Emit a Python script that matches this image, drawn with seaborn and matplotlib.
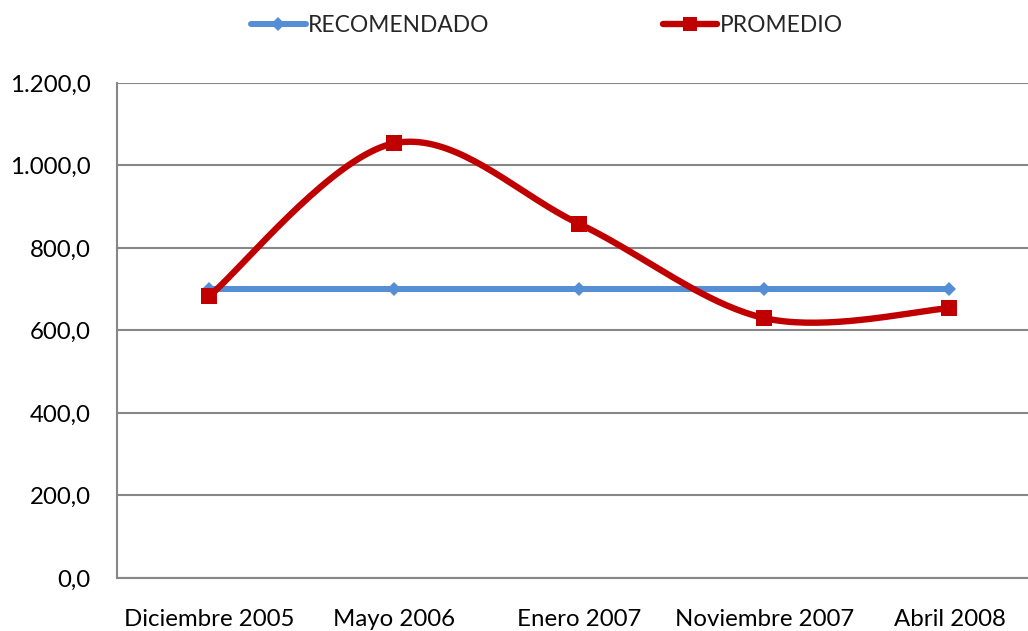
import numpy as np
import pandas as pd
import seaborn as sns
import matplotlib.pyplot as plt
from matplotlib.lines import Line2D
from matplotlib.ticker import FuncFormatter

# data
fechas = ['Diciembre 2005', 'Mayo 2006', 'Enero 2007', 'Noviembre 2007', 'Abril 2008']
recomendado = [700, 700, 700, 700, 700]
promedio = [684, 1054, 858, 630, 654]

azul = '#558ED5'
rojo = '#C00000'
gris = '#878787'

sns.set_style('white')
plt.rcParams['font.family'] = ['Lato', 'DejaVu Sans']


def suavizar(y, n=40):
    # Excel-like smoothed line: cubic Bezier segments with Catmull-Rom control points
    x = np.arange(len(y), dtype=float)
    y = np.asarray(y, dtype=float)
    xs, ys = [], []
    for i in range(len(y) - 1):
        i0, i3 = max(i - 1, 0), min(i + 2, len(y) - 1)
        p0 = np.array([x[i], y[i]])
        p3 = np.array([x[i + 1], y[i + 1]])
        c1 = p0 + (np.array([x[i + 1], y[i + 1]]) - np.array([x[i0], y[i0]])) / 6
        c2 = p3 - (np.array([x[i3], y[i3]]) - np.array([x[i], y[i]])) / 6
        t = np.linspace(0, 1, n)[:, None]
        pts = (1 - t) ** 3 * p0 + 3 * (1 - t) ** 2 * t * c1 + 3 * (1 - t) * t ** 2 * c2 + t ** 3 * p3
        xs.extend(pts[:, 0]); ys.extend(pts[:, 1])
    return np.array(xs), np.array(ys)


fig = plt.figure(figsize=(10.28, 6.31), dpi=100)
ax = fig.add_axes([0.1138, 0.084, 0.8998, 0.7845])

pos = np.arange(len(fechas))
df_rec = pd.DataFrame({'x': pos, 'y': recomendado})
sns.lineplot(data=df_rec, x='x', y='y', ax=ax, color=azul, lw=4.3, marker='D',
             markersize=7, markeredgewidth=0, solid_capstyle='butt', zorder=3)

sx, sy = suavizar(promedio)
sns.lineplot(x=sx, y=sy, ax=ax, color=rojo, lw=4.6, sort=False, estimator=None,
             solid_capstyle='butt', zorder=4)
sns.scatterplot(x=pos, y=promedio, ax=ax, color=rojo, marker='s', s=120,
                linewidth=0, zorder=5)

ax.set_xlim(-0.5, 4.5)
ax.set_ylim(0, 1200)
ax.set_yticks(np.arange(0, 1201, 200))
ax.yaxis.set_major_formatter(FuncFormatter(
    lambda v, p: f'{v:,.1f}'.replace(',', 'X').replace('.', ',').replace('X', '.')))
ax.set_xticks(pos)
ax.set_xticklabels(fechas)
ax.tick_params(axis='both', length=0, labelsize=17.3, colors='black')
ax.tick_params(axis='x', pad=22)
ax.tick_params(axis='y', pad=19)
ax.grid(axis='y', color=gris, lw=1.5)
ax.set_axisbelow(True)
for s in ['top', 'right']:
    ax.spines[s].set_visible(False)
for s in ['left', 'bottom']:
    ax.spines[s].set_color(gris)
    ax.spines[s].set_linewidth(1.5)
ax.set_xlabel('')
ax.set_ylabel('')

handles = [
    Line2D([], [], color=azul, lw=4.3, marker='D', markersize=7, markeredgewidth=0),
    Line2D([], [], color=rojo, lw=4.6, marker='s', markersize=10, markeredgewidth=0),
]
fig.legend(handles, ['RECOMENDADO', 'PROMEDIO'], loc='upper center',
           bbox_to_anchor=(0.532, 1.008), ncol=2, frameon=False, fontsize=16.4,
           handlelength=2.4, handletextpad=0.1, columnspacing=7.6)

fig.savefig('out.png', dpi=100)
